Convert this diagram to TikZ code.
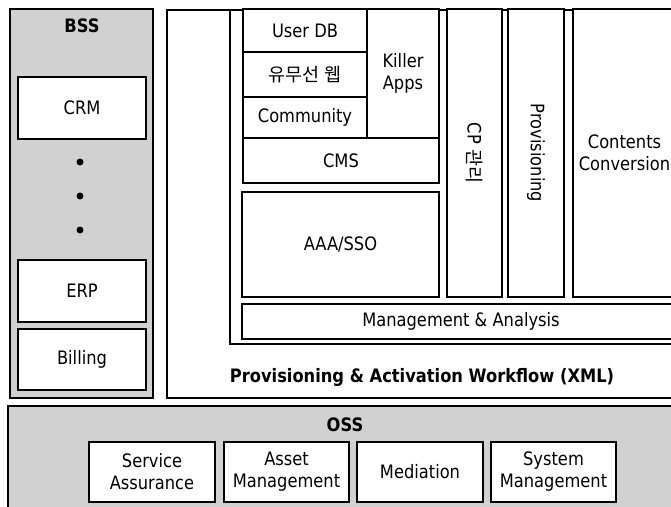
\documentclass[tikz,border=0pt]{standalone}
\usepackage{fontspec}
\setmainfont{DejaVu Sans}[FakeStretch=0.88]
\newfontfamily\kor{Noto Sans CJK KR}
\newcommand\fsz{\fontsize{18.5}{22}\selectfont}

\begin{document}
\begin{tikzpicture}[x=1pt, y=-1pt, font=\fsz,
    blk/.style={draw, line width=1.8pt, fill=white, align=center, inner sep=0pt},
    grp/.style={draw, line width=1.8pt, fill=black!18},
    frm/.style={draw, line width=1.8pt},
    ttl/.style={font=\bfseries\fsz}]
    \useasboundingbox (0,0) rectangle (671,506);
    \clip (0,0) rectangle (671,506);
    % BSS
    \draw [grp]      (10,9) rectangle (153,398);
    \node [ttl] (bss) at (82,26) {BSS};
    \node [blk, minimum width=128, minimum height=62] (crm)  at (82,108) {CRM};
    \foreach \y in {162,196,230}
        \fill (80,\y) circle (3.5);
    \node [blk, minimum width=128, minimum height=62] (erp)  at (82,291) {ERP};
    \node [blk, minimum width=128, minimum height=61] (bill) at (82,359.5) {Billing};
    % workflow frames
    \draw [frm]      (167,10) rectangle (690,398);
    \draw [frm]      (230,10) rectangle (690,344);
    % services
    \node [blk, minimum width=124, minimum height=43]  (udb)    at (305,30.5)   {User DB};
    \node [blk, minimum width=124, minimum height=45]  (wire)   at (305,74.5)   {\kor 유무선 웹};
    \node [blk, minimum width=124, minimum height=41]  (comm)   at (305,117.5)  {Community};
    \node [blk, minimum width=72,  minimum height=129] (killer) at (403,73.5)   {Killer\\Apps};
    \node [blk, minimum width=196, minimum height=45]  (cms)    at (341,160.5)  {CMS};
    \node [blk, minimum width=197, minimum height=105] (aaa)    at (340.5,244.5) {AAA/SSO};
    \node [blk, minimum width=55,  minimum height=288] (cp)     at (474.5,153)  {};
    \node [rotate=-90] (cptxt) at (cp.center) {CP {\kor 관리}};
    \node [blk, minimum width=56,  minimum height=288] (prov)   at (536,153)    {};
    \node [rotate=-90] (provtxt) at (prov.center) {Provisioning};
    \node [blk, minimum width=103, minimum height=288] (conv)   at (624.5,153)  {Contents\\Conversion};
    \node [blk, minimum width=438, minimum height=35]  (mgmt)   at (461,321.5)  {Management \& Analysis};
    \node [ttl] (wf) at (422,377) {Provisioning \& Activation Workflow (XML)};
    % OSS
    \draw [grp]      (8,406) rectangle (690,520);
    \node [ttl] (oss) at (345,425) {OSS};
    \node [blk, minimum width=126, minimum height=60] (sa)  at (152,472)   {Service\\Assurance};
    \node [blk, minimum width=125, minimum height=60] (am)  at (286.5,472) {Asset\\Management};
    \node [blk, minimum width=126, minimum height=60] (med) at (420,472)   {Mediation};
    \node [blk, minimum width=125, minimum height=60] (sm)  at (553.5,472) {System\\Management};
\end{tikzpicture}
\end{document}
